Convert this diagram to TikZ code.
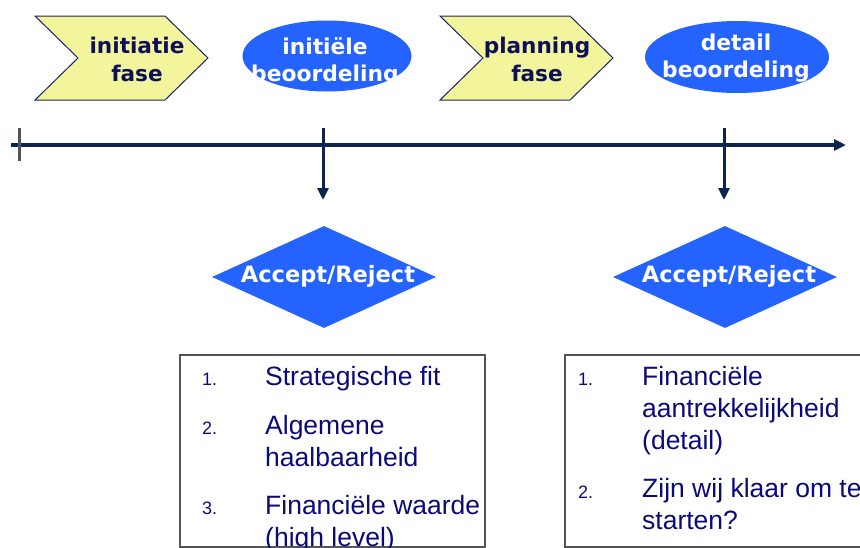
\documentclass[tikz,border=0pt]{standalone}
\usepackage{fontspec}
\setmainfont{Liberation Sans}
\newfontfamily\headfont{DejaVu Sans}
\usepackage{tikz}
\usepackage{xcolor}
\usetikzlibrary{shapes.geometric, arrows.meta, positioning, calc}

\definecolor{linenavy}{RGB}{11,37,80}
\definecolor{evalblue}{RGB}{37,99,255}
\definecolor{phaseyellow}{RGB}{242,245,155}
\definecolor{phaseborder}{RGB}{25,35,100}
\definecolor{headnavy}{RGB}{14,14,90}
\definecolor{listnavy}{RGB}{10,10,120}
\definecolor{boxgrey}{RGB}{85,85,85}

\tikzset{
  phase/.style={draw=phaseborder, line width=1pt, fill=phaseyellow},
  phasetext/.style={anchor=base, align=center, inner sep=0, text=headnavy,
    font=\headfont\bfseries\fontsize{21.6}{28}\selectfont},
  evalshape/.style={ellipse, fill=evalblue, inner sep=0},
  evaltext/.style={anchor=base, align=center, inner sep=0, text=white,
    font=\headfont\bfseries\fontsize{21.8}{26.5}\selectfont},
  decision/.style={diamond, fill=evalblue, inner sep=0,
    minimum width=224pt, minimum height=102pt},
  decisiontext/.style={anchor=base, inner sep=0, text=white,
    font=\headfont\bfseries\fontsize{22.5}{27}\selectfont},
  timeline/.style={draw=linenavy, line width=4pt,
    -{Triangle[length=12pt,width=11pt]}},
  droparrow/.style={draw=linenavy, line width=3pt,
    -{Triangle[length=12pt,width=11pt]}},
  starttick/.style={draw=boxgrey, line width=3pt},
  listbox/.style={draw=boxgrey, line width=1.5pt, anchor=north west,
    inner sep=0, minimum height=192pt},
  itemnum/.style={anchor=base west, inner sep=0, text=listnavy,
    font=\fontsize{18}{22}\selectfont},
  itemtext/.style={anchor=base west, align=left, inner sep=0, text=listnavy,
    font=\fontsize{26.5}{32}\selectfont},
}

\begin{document}
\begin{tikzpicture}[x=1pt,y=-1pt]
\useasboundingbox (0,0) rectangle (860,547);
\clip (0,0) rectangle (860,547);

% Phases (text placed at the baseline of its last line)
\draw[phase] (35,16) -- (165,16) -- (208,58) -- (165,100) -- (35,100) -- (78,58) -- cycle;
\node[phasetext] (init) at (137,81) {initiatie\\fase};
\draw[phase] (440,16) -- (570,16) -- (613,58) -- (570,100) -- (440,100) -- (483,58) -- cycle;
\node[phasetext] (plan) at (537,81) {planning\\fase};

% Assessments
\node[evalshape, minimum width=169pt, minimum height=71pt] (eval1) at (327,56) {};
\node[evaltext] (eval1 text) at (325,81) {initiële\\beoordeling};
\node[evalshape, minimum width=184pt, minimum height=72pt] (eval2) at (737,57) {};
\node[evaltext] (eval2 text) at (736,77) {detail\\beoordeling};

% Time axis
\coordinate (axis start) at (11,145);
\coordinate (axis end) at (846,145);
\draw[timeline] (axis start) -- (axis end);
\coordinate (tick top) at (19,128);
\coordinate (tick bottom) at (19,161);
\draw[starttick] (tick top) -- (tick bottom);

% Decision points
\coordinate (drop1) at (323,128);
\coordinate (drop1 end) at (323,200);
\draw[droparrow] (drop1) -- (drop1 end);
\coordinate (drop2) at (724,128);
\coordinate (drop2 end) at (724,200);
\draw[droparrow] (drop2) -- (drop2 end);

\node[decision] (gate1) at (324,277) {};
\node[decisiontext] (gate1 text) at (328,282) {Accept/Reject};
\node[decision] (gate2) at (725,277) {};
\node[decisiontext] (gate2 text) at (729,282) {Accept/Reject};

% Criteria
\node[listbox, minimum width=305pt] (crit1) at (179,354) {};
\node[itemnum] (crit1 n1) at (202,385) {1.};
\node[itemtext] (crit1 t1) at (265,385) {Strategische fit};
\node[itemnum] (crit1 n2) at (202,434) {2.};
\node[itemtext] (crit1 t2) at (265,466) {Algemene\\haalbaarheid};
\node[itemnum] (crit1 n3) at (202,514) {3.};
\node[itemtext] (crit1 t3) at (265,546) {Financiële waarde\\(high level)};

\node[listbox, minimum width=340pt] (crit2) at (564,354) {};
\node[itemnum] (crit2 n1) at (578,385) {1.};
\node[itemtext] (crit2 t1) at (642,449) {Financiële\\aantrekkelijkheid\\(detail)};
\node[itemnum] (crit2 n2) at (578,498) {2.};
\node[itemtext] (crit2 t2) at (642,529) {Zijn wij klaar om te\\starten?};
\end{tikzpicture}
\end{document}
